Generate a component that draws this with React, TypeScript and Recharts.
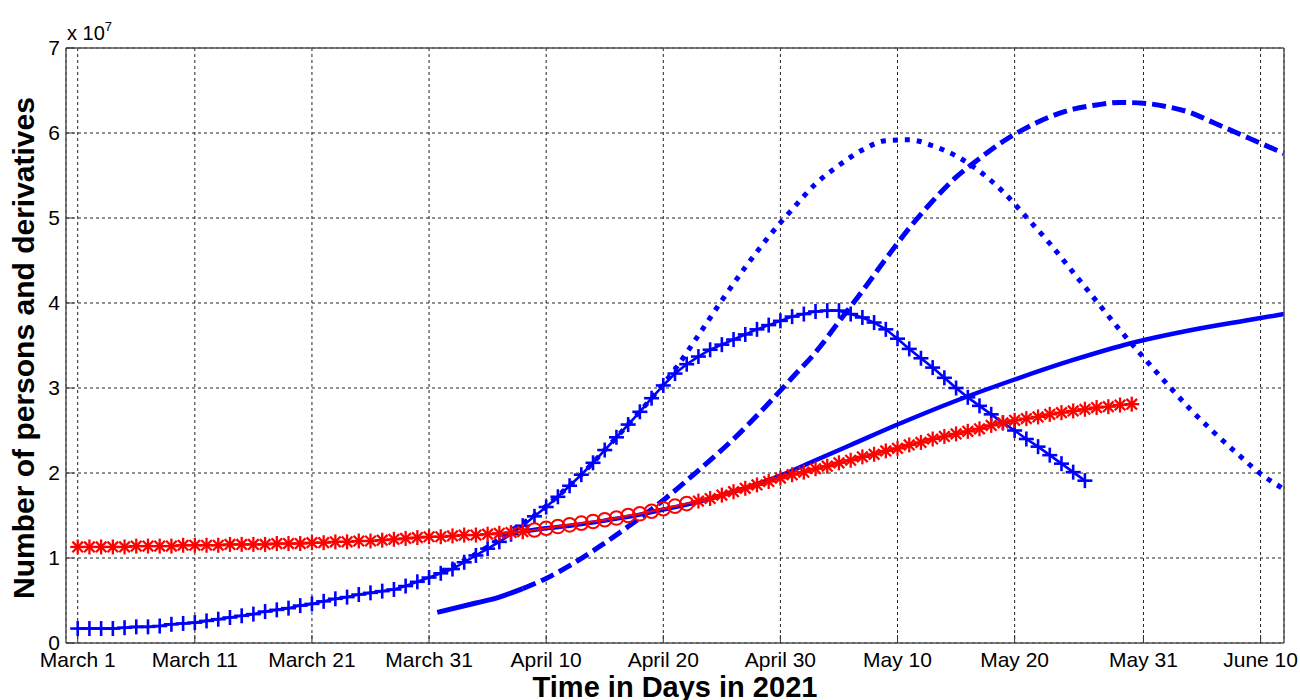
import React from "react";
import { LineChart, Line, XAxis, YAxis, CartesianGrid } from "recharts";

// x = days after March 1, y = persons in units of 10^7
const tickDays = [0, 10, 20, 30, 40, 50, 60, 70, 80, 91, 101];
const tickLabels = [
  "March 1",
  "March 11",
  "March 21",
  "March 31",
  "April 10",
  "April 20",
  "April 30",
  "May 10",
  "May 20",
  "May 31",
  "June 10",
];
const yTicks = [0, 1, 2, 3, 4, 5, 6, 7];

// blue "+" series, one value per day from March 1
const plusValues = [
  0.17, 0.17, 0.17, 0.17, 0.18, 0.19, 0.19, 0.2, 0.22, 0.23, 0.24,
  0.26, 0.28, 0.3, 0.32, 0.34, 0.37, 0.39, 0.41, 0.44, 0.46,
  0.49, 0.52, 0.54, 0.57, 0.59, 0.61, 0.63, 0.67, 0.72, 0.77,
  0.82, 0.87, 0.95, 1.03, 1.11, 1.19, 1.28, 1.38, 1.49, 1.6,
  1.72, 1.85, 1.98, 2.12, 2.27, 2.42, 2.57, 2.72, 2.88, 3.03,
  3.17, 3.28, 3.37, 3.45, 3.51, 3.57, 3.63, 3.69, 3.74, 3.79,
  3.84, 3.87, 3.9, 3.91, 3.91, 3.87, 3.83, 3.77, 3.69, 3.58,
  3.46, 3.35, 3.24, 3.12, 3.0, 2.89, 2.79, 2.69, 2.59, 2.5,
  2.4, 2.31, 2.21, 2.11, 2.01, 1.91,
];

// red series, one value per day; circles instead of stars between these days
const redValues = [
  1.13, 1.13, 1.13, 1.13, 1.13, 1.14, 1.14, 1.14, 1.14, 1.15, 1.15,
  1.15, 1.15, 1.16, 1.16, 1.16, 1.16, 1.17, 1.17, 1.17, 1.18,
  1.18, 1.19, 1.19, 1.2, 1.2, 1.21, 1.22, 1.23, 1.24, 1.25,
  1.25, 1.26, 1.27, 1.27, 1.28, 1.29, 1.3, 1.31, 1.33, 1.35,
  1.37, 1.39, 1.41, 1.43, 1.45, 1.47, 1.5, 1.52, 1.55, 1.58,
  1.61, 1.64, 1.67, 1.7, 1.74, 1.78, 1.82, 1.86, 1.9, 1.94,
  1.98, 2.01, 2.05, 2.08, 2.12, 2.15, 2.19, 2.22, 2.26, 2.29,
  2.33, 2.36, 2.4, 2.43, 2.46, 2.49, 2.52, 2.56, 2.59, 2.62,
  2.64, 2.66, 2.69, 2.71, 2.73, 2.75, 2.77, 2.78, 2.8, 2.81,
];
const circleFirstDay = 39;
const circleLastDay = 52;

const dottedDays = [
  31, 33, 35, 37, 39, 41, 43, 45, 47, 49, 51, 53, 55, 57, 59, 61, 63, 65, 67,
  69, 71, 73, 75, 77, 79, 81, 83, 85, 87, 89, 91, 93, 95, 97, 99, 101, 103,
];
const dottedValues = [
  0.84, 0.97, 1.13, 1.32, 1.5, 1.73, 1.98, 2.27, 2.57, 2.88, 3.22, 3.62, 4.03,
  4.42, 4.78, 5.1, 5.4, 5.62, 5.8, 5.91, 5.92, 5.85, 5.73, 5.55, 5.31, 5.01,
  4.7, 4.36, 4.02, 3.68, 3.36, 3.05, 2.75, 2.48, 2.23, 1.99, 1.81,
];

const dashedDays = [
  30.7, 34, 36, 38, 40, 42, 44.5, 47, 50, 53, 56, 59, 61, 63, 65, 67, 69, 71,
  73, 75, 77, 79, 81, 83, 85, 87, 89, 91, 93, 95, 97, 99, 101, 103,
];
const dashedValues = [
  0.36, 0.47, 0.54, 0.64, 0.76, 0.91, 1.13, 1.37, 1.68, 2.03, 2.4, 2.82, 3.12,
  3.42, 3.78, 4.14, 4.52, 4.88, 5.2, 5.48, 5.7, 5.9, 6.06, 6.19, 6.28, 6.33,
  6.36, 6.35, 6.31, 6.24, 6.12, 6.0, 5.88, 5.76,
];
const dashedSolidPoints = 4; // first part of the dashed curve is drawn solid

const solidDays = [
  38, 40, 42, 45, 48, 50, 53, 56, 58, 60, 63, 66, 70, 75, 80, 85, 90, 95, 100,
  103,
];
const solidValues = [
  1.31, 1.35, 1.38, 1.44, 1.51, 1.57, 1.66, 1.78, 1.87, 1.97, 2.15, 2.33, 2.57,
  2.85, 3.1, 3.33, 3.53, 3.68, 3.8, 3.87,
];

const BLUE = "#0000ff";
const RED = "#ff0000";
const FONT = "'Liberation Sans', Arial, Helvetica, sans-serif";

const plusData = plusValues.map((value, day) => ({ day, value }));
const redData = redValues.map((value, day) => ({ day, value }));
const dottedData = dottedDays.map((day, i) => ({ day, value: dottedValues[i] }));
const dashedData = dashedDays.map((day, i) => ({ day, value: dashedValues[i] }));
const solidData = solidDays.map((day, i) => ({ day, value: solidValues[i] }));

function renderPlus(props: any) {
  const { cx, cy, index } = props;
  if (cx == null || cy == null) return <g key={`p-${index}`} />;
  const s = 7.5;
  return (
    <g key={`p-${index}`} stroke={BLUE} strokeWidth={2.6}>
      <line x1={cx - s} y1={cy} x2={cx + s} y2={cy} />
      <line x1={cx} y1={cy - s} x2={cx} y2={cy + s} />
    </g>
  );
}

function renderRed(props: any) {
  const { cx, cy, index, payload } = props;
  if (cx == null || cy == null) return <g key={`r-${index}`} />;
  const day = payload?.day ?? index;
  if (day >= circleFirstDay && day <= circleLastDay) {
    return (
      <circle
        key={`r-${index}`}
        cx={cx}
        cy={cy}
        r={6.8}
        fill="none"
        stroke={RED}
        strokeWidth={2}
      />
    );
  }
  const s = 7.5;
  const d = 5.3;
  return (
    <g key={`r-${index}`} stroke={RED} strokeWidth={2.3}>
      <line x1={cx - s} y1={cy} x2={cx + s} y2={cy} />
      <line x1={cx} y1={cy - s} x2={cx} y2={cy + s} />
      <line x1={cx - d} y1={cy - d} x2={cx + d} y2={cy + d} />
      <line x1={cx - d} y1={cy + d} x2={cx + d} y2={cy - d} />
    </g>
  );
}

const YTitle = () => (
  <text
    x={34}
    y={348}
    transform="rotate(-90 34 348)"
    textAnchor="middle"
    fontSize={30}
    fontWeight="bold"
    fill="#000"
    fontFamily={FONT}
  >
    Number of persons and derivatives
  </text>
);

const XTitle = () => (
  <text
    x={675}
    y={697}
    textAnchor="middle"
    fontSize={29}
    fontWeight="bold"
    fill="#000"
    fontFamily={FONT}
  >
    Time in Days in 2021
  </text>
);

const ScaleNote = () => (
  <text x={67} y={40} fontSize={20} fill="#000" fontFamily={FONT}>
    x 10
    <tspan fontSize={13} dy={-9}>
      7
    </tspan>
  </text>
);

export default function App() {
  return (
    <div
      style={{
        position: "absolute",
        left: 0,
        top: 0,
        width: 1300,
        height: 700,
        background: "#fff",
      }}
    >
      <LineChart
        width={1300}
        height={700}
        margin={{ top: 28, right: 0, bottom: 0, left: 0 }}
        style={{ fontFamily: FONT }}
      >
        <CartesianGrid stroke="#222" strokeDasharray="3 3" />
        <XAxis
          dataKey="day"
          type="number"
          domain={[-1, 103]}
          ticks={tickDays}
          interval={0}
          tickFormatter={(d: number) => tickLabels[tickDays.indexOf(d)] ?? ""}
          height={57}
          tickSize={-8}
          tickMargin={17}
          tick={{ fill: "#000", fontSize: 21 }}
          axisLine={{ stroke: "#555", strokeWidth: 1.5 }}
          tickLine={{ stroke: "#333" }}
          label={{ content: () => <XTitle /> }}
        />
        <XAxis
          xAxisId="top"
          orientation="top"
          dataKey="day"
          type="number"
          domain={[-1, 103]}
          ticks={tickDays}
          interval={0}
          tick={false}
          height={20}
          tickSize={-8}
          axisLine={{ stroke: "#555", strokeWidth: 1.5 }}
          tickLine={{ stroke: "#333" }}
          label={{ content: () => <ScaleNote /> }}
        />
        <YAxis
          type="number"
          domain={[0, 7]}
          ticks={yTicks}
          interval={0}
          width={66}
          tickSize={-8}
          tickMargin={14}
          tick={{ fill: "#000", fontSize: 21 }}
          axisLine={{ stroke: "#555", strokeWidth: 1.5 }}
          tickLine={{ stroke: "#333" }}
          label={{ content: () => <YTitle /> }}
        />
        <YAxis
          yAxisId="right"
          orientation="right"
          type="number"
          domain={[0, 7]}
          ticks={yTicks}
          interval={0}
          width={16}
          tick={false}
          tickSize={-8}
          axisLine={{ stroke: "#555", strokeWidth: 1.5 }}
          tickLine={{ stroke: "#333" }}
        />
        <Line
          data={plusData}
          dataKey="value"
          type="linear"
          stroke={BLUE}
          strokeWidth={2.6}
          dot={renderPlus}
          activeDot={false}
          isAnimationActive={false}
        />
        <Line
          data={dottedData}
          dataKey="value"
          type="monotone"
          stroke={BLUE}
          strokeWidth={5}
          strokeDasharray="5 7"
          dot={false}
          activeDot={false}
          isAnimationActive={false}
        />
        <Line
          data={dashedData.slice(0, dashedSolidPoints)}
          dataKey="value"
          type="monotone"
          stroke={BLUE}
          strokeWidth={5}
          dot={false}
          activeDot={false}
          isAnimationActive={false}
        />
        <Line
          data={dashedData.slice(dashedSolidPoints - 1)}
          dataKey="value"
          type="monotone"
          stroke={BLUE}
          strokeWidth={5}
          strokeDasharray="14 6"
          dot={false}
          activeDot={false}
          isAnimationActive={false}
        />
        <Line
          data={solidData}
          dataKey="value"
          type="monotone"
          stroke={BLUE}
          strokeWidth={4.5}
          dot={false}
          activeDot={false}
          isAnimationActive={false}
        />
        <Line
          data={redData}
          dataKey="value"
          type="linear"
          stroke={RED}
          strokeWidth={2}
          dot={renderRed}
          activeDot={false}
          isAnimationActive={false}
        />
      </LineChart>
    </div>
  );
}
